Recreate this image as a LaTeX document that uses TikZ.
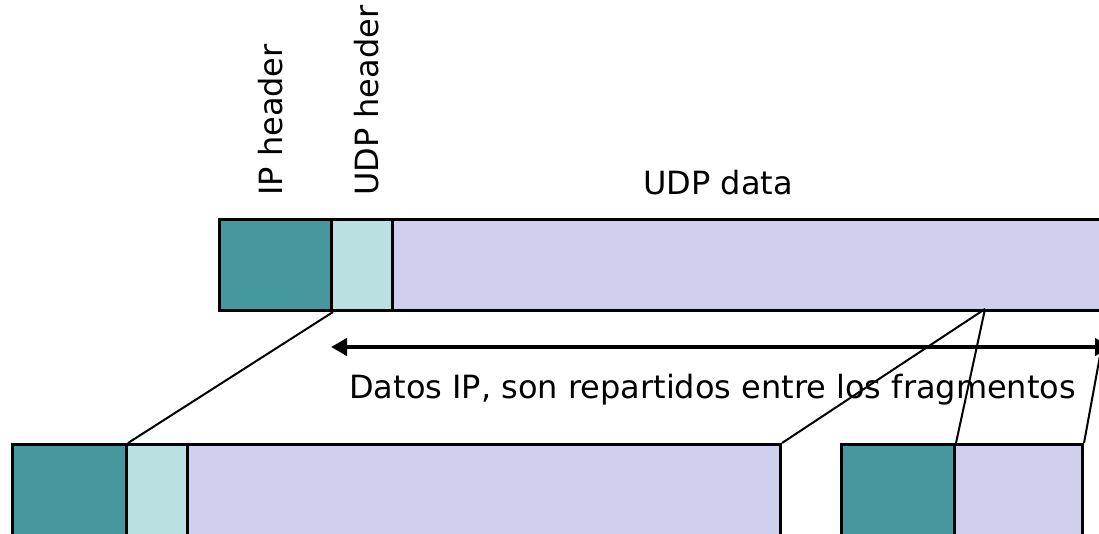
\documentclass[tikz,border=0pt]{standalone}
\usepackage{fontspec}
\setmainfont{DejaVu Sans}
\usetikzlibrary{arrows.meta}
\definecolor{ipcol}{RGB}{71,152,158}
\definecolor{udpcol}{RGB}{186,224,226}
\definecolor{datacol}{RGB}{208,208,238}
\tikzset{
  seg/.style={draw=black, line width=3pt, inner sep=0pt, anchor=north west,
    minimum height=91pt},
  ipseg/.style={seg, fill=ipcol},
  udpseg/.style={seg, fill=udpcol},
  dataseg/.style={seg, fill=datacol},
  link/.style={draw=black, line width=2pt},
  lbl/.style={font=\fontsize{32}{36}\selectfont, inner sep=0pt},
}
\begin{document}
\begin{tikzpicture}[x=1pt, y=-1pt]
\clip (0,0) rectangle (1099,533);
% original datagram
\node[ipseg, minimum width=112pt] (tip) at (218,218) {};
\node[udpseg, minimum width=61pt] (tudp) at (330,218) {};
\node[dataseg, minimum width=714pt] (tdata) at (391,218) {};
% first fragment
\node[ipseg, minimum width=114pt] (aip) at (11,443) {};
\node[udpseg, minimum width=61pt] (audp) at (125,443) {};
\node[dataseg, minimum width=593pt] (adata) at (186,443) {};
% second fragment
\node[ipseg, minimum width=113pt] (bip) at (840,443) {};
\node[dataseg, minimum width=128pt] (bdata) at (953,443) {};
% labels
\node[lbl, rotate=90, anchor=west] (liph) at (271,196) {IP header};
\node[lbl, rotate=90, anchor=west] (ludph) at (367,196) {UDP header};
\node[lbl, anchor=base] (ldata) at (718,194) {UDP data};
% split points of the payload
\coordinate (cut) at (985,309);
\coordinate (arrL) at (331,347);
\coordinate (arrR) at (1111,347);
\draw[line width=4.5pt, {Triangle[length=16pt,width=17pt]}-{Triangle[length=16pt,width=17pt]}] (arrL) -- (arrR);
\node[lbl, anchor=base west] (ltxt) at (349,398) {Datos IP, son repartidos entre los fragmentos};
% mapping lines
\draw[link] (tip.south east) -- (aip.north east);
\draw[link] (cut) -- (adata.north east);
\draw[link] (cut) -- (bip.north east);
\draw[link] (tdata.south east) -- (bdata.north east);
\end{tikzpicture}
\end{document}
